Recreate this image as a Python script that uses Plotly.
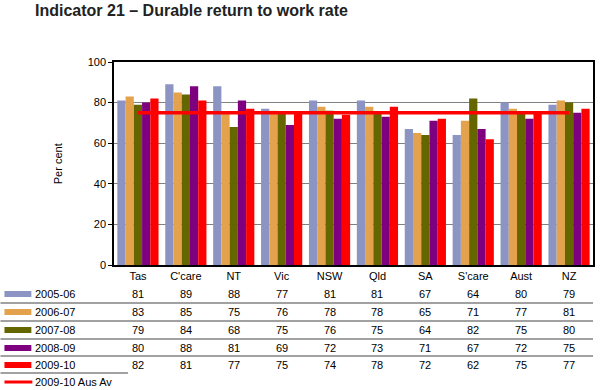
import plotly.graph_objects as go

categories = ["Tas", "C'care", "NT", "Vic", "NSW", "Qld", "SA", "S'care", "Aust", "NZ"]
series_names = ["2005-06", "2006-07", "2007-08", "2008-09", "2009-10"]
v_2005_06 = [81, 89, 88, 77, 81, 81, 67, 64, 80, 79]
v_2006_07 = [83, 85, 75, 76, 78, 78, 65, 71, 77, 81]
v_2007_08 = [79, 84, 68, 75, 76, 75, 64, 82, 75, 80]
v_2008_09 = [80, 88, 81, 69, 72, 73, 71, 67, 72, 75]
v_2009_10 = [82, 81, 77, 75, 74, 78, 72, 62, 75, 77]
aus_avg_name = "2009-10 Aus Av"
aus_avg = [75] * len(categories)

series_values = [v_2005_06, v_2006_07, v_2007_08, v_2008_09, v_2009_10]
colors = ["#8C94C4", "#E5A24C", "#666600", "#7F007F", "#FF0000"]

W, H = 601, 390
L, R, T, B = 114, 595, 62, 265
FONT = "Liberation Sans, Arial, sans-serif"


def xp(px):
    return (px - L) / (R - L)


def yp(py):
    return (B - py) / (B - T)


fig = go.Figure()
for name, vals, col in zip(series_names, series_values, colors):
    fig.add_trace(go.Bar(x=categories, y=vals, name=name, marker=dict(color=col, line=dict(width=0))))

fig.add_trace(go.Scatter(x=categories, y=aus_avg, name=aus_avg_name, mode="lines",
                         line=dict(color="#FF0000", width=3.5)))

annotations = []
shapes = []

# title
annotations.append(dict(text="<b>Indicator 21 – Durable return to work rate</b>", xref="paper", yref="paper",
                        x=xp(33), y=yp(10), xanchor="left", yanchor="middle", showarrow=False,
                        font=dict(size=16, color="#222222", family=FONT)))
# y label
annotations.append(dict(text="Per cent", xref="paper", yref="paper", x=xp(58), y=yp(164),
                        textangle=-90, showarrow=False, xanchor="center", yanchor="middle",
                        font=dict(size=11, color="#000", family=FONT)))

row_y = [294, 312, 330, 348, 365]
sep_y = [303, 321, 339, 356]
for i, (name, vals, col) in enumerate(zip(series_names, series_values, colors)):
    y = row_y[i]
    shapes.append(dict(type="rect", xref="paper", yref="paper", x0=xp(4), x1=xp(31),
                       y0=yp(y - 3), y1=yp(y + 3), fillcolor=col, line=dict(width=0)))
    annotations.append(dict(text=name, xref="paper", yref="paper", x=xp(33), y=yp(y),
                            xanchor="left", yanchor="middle", showarrow=False,
                            font=dict(size=11, color="#000", family=FONT)))
    for c, v in zip(categories, vals):
        annotations.append(dict(text=str(v), xref="x", yref="paper", x=c, y=yp(y),
                                xanchor="center", yanchor="middle", showarrow=False,
                                font=dict(size=11, color="#000", family=FONT)))

for y in sep_y:
    shapes.append(dict(type="line", xref="paper", yref="paper", x0=xp(0), x1=xp(595),
                       y0=yp(y), y1=yp(y), line=dict(color="#444444", width=1.2)))
shapes.append(dict(type="line", xref="paper", yref="paper", x0=xp(0), x1=xp(128),
                   y0=yp(373), y1=yp(373), line=dict(color="#444444", width=1.2)))

# Aus Av legend
shapes.append(dict(type="line", xref="paper", yref="paper", x0=xp(4), x1=xp(32),
                   y0=yp(382), y1=yp(382), line=dict(color="#FF0000", width=3)))
annotations.append(dict(text=aus_avg_name, xref="paper", yref="paper", x=xp(33), y=yp(382),
                        xanchor="left", yanchor="middle", showarrow=False,
                        font=dict(size=11, color="#000", family=FONT)))

fig.update_layout(
    width=W, height=H,
    margin=dict(l=L, r=W - R, t=T, b=H - B, pad=0),
    paper_bgcolor="white", plot_bgcolor="white",
    barmode="group", bargap=0.14, bargroupgap=0,
    showlegend=False,
    font=dict(family=FONT, size=11, color="#000"),
    annotations=annotations, shapes=shapes,
)
fig.update_xaxes(showline=True, linecolor="#000", linewidth=1.5, mirror=True,
                 ticks="", tickfont=dict(size=11, color="#000"), showgrid=False)
fig.update_yaxes(range=[0, 100], dtick=20, showline=True, linecolor="#000", linewidth=1.5,
                 mirror=True, ticks="outside", ticklen=4, tickcolor="#000",
                 showgrid=True, gridcolor="#808080", gridwidth=1,
                 tickfont=dict(size=11, color="#000"), zeroline=False)

fig.write_html("out.html", config={"displayModeBar": False},
               post_script="document.body.style.margin='0';document.body.style.overflow='hidden';")
